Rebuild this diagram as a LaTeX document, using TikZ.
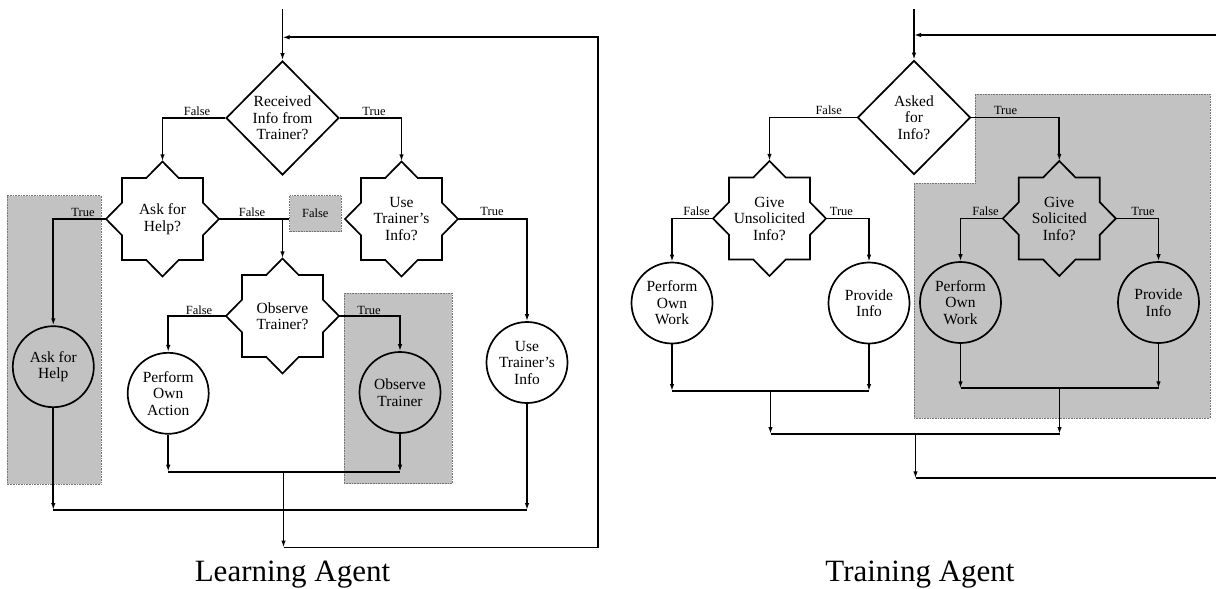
\documentclass[tikz,border=0pt]{standalone}
\usepackage{fontspec}
\setmainfont{Liberation Serif}
\usetikzlibrary{arrows.meta,shapes.geometric}
\newcommand{\starout}[1]{\draw[flow, shift={(#1.center)}] (0,-57.5) -- (16.2,-41) -- (40.5,-41) -- (40.5,-16.3) -- (56.5,0) -- (40.5,16.3) -- (40.5,41) -- (16.2,41) -- (0,57.5) -- (-16.2,41) -- (-40.5,41) -- (-40.5,16.3) -- (-56.5,0) -- (-40.5,-16.3) -- (-40.5,-41) -- (-16.2,-41) -- cycle;}
\begin{document}
\begin{tikzpicture}[x=1pt,y=-1pt,
  flow/.style={line width=1.7pt, line join=miter},
  arr/.style={flow, -{Latex[length=7pt,width=4.5pt]}},
  dia/.style={diamond, draw, line width=1.7pt, minimum width=113pt, minimum height=114pt, inner sep=0pt},
  hid/.style={diamond, draw=none, minimum width=113pt, minimum height=115pt, inner sep=0pt},
  txt/.style={align=center, font=\fontsize{15.5}{16.5}\selectfont, inner sep=0pt},
  circ/.style={circle, draw, line width=1.7pt, minimum size=81pt, inner sep=0pt, align=center, font=\fontsize{15.5}{16.5}\selectfont},
  lbl/.style={font=\fontsize{12.5}{13}\selectfont, inner sep=0pt},
  shade/.style={fill=black!24, draw=black!55, line width=0.6pt, densely dotted},
  title/.style={font=\fontsize{31}{33}\selectfont, anchor=base, inner sep=0pt}]
\fill[white] (0,0) rectangle (1216,589);
\useasboundingbox (0,0) rectangle (1216,589);
% ---------- shaded areas ----------
\fill[shade] (7,195.5) rectangle (101,484);
\fill[shade] (344,293) rectangle (452,483.5);
\node[shade, draw, minimum width=51.5pt, minimum height=36pt, inner sep=0pt, font=\fontsize{12.5}{13}\selectfont] (fbox) at (315.3,213.5) {False};
\filldraw[shade] (975,94) -- (1210,94) -- (1210,418) -- (914,418) -- (914,183.3) -- (975,183.3) -- cycle;
% ---------- Learning agent nodes ----------
\node[dia] (recv) at (282.5,118) {};
\node[txt] (recvt) at (recv) {Received\\Info from\\Trainer?};
\node[hid] (askq) at (162.5,219) {};
\node[txt] (askqt) at (askq) {Ask for\\Help?};
\starout{askq}
\node[hid] (useq) at (401.5,219) {};
\node[txt] (useqt) at (useq) {Use\\Trainer's\\Info?};
\starout{useq}
\node[hid] (obsq) at (282.5,316) {};
\node[txt] (obsqt) at (obsq) {Observe\\Trainer?};
\starout{obsq}
\node[circ] (askc) at (53.3,366.7) {Ask for\\Help};
\node[circ] (perfc) at (168.2,393.3) {Perform\\Own\\Action};
\node[circ] (obsc) at (400,392.5) {Observe\\Trainer};
\node[circ] (usec) at (527,362.5) {Use\\Trainer's\\Info};
% labels
\node[lbl] (l1) at (197,111) {False};
\node[lbl] (l2) at (374,111) {True};
\node[lbl] (l3) at (83,212) {True};
\node[lbl] (l4) at (252,212) {False};
\node[lbl] (l5) at (492,211) {True};
\node[lbl] (l6) at (199,310) {False};
\node[lbl] (l7) at (369,310) {True};
% connectors
\coordinate (top1) at (282.5,9);
\draw[arr] (top1) -- (recv.north);
\draw[arr] (recv.west) -| (askq.north);
\draw[arr] (recv.east) -| (useq.north);
\draw[arr] (askq.west) -| (askc.north);
\draw[flow] (askq.east) -- (askq.east -| fbox.west);
\draw[arr] (askq.east -| obsq.north) -- (obsq.north);
\draw[arr] (useq.east) -| (usec.north);
\draw[arr] (obsq.west) -| (perfc.north);
\draw[arr] (obsq.east) -| (obsc.north);
\coordinate (m1) at (283.5,471.7);
\coordinate (m2) at (283.5,510);
\draw[arr] (perfc.south) -- (perfc.south |- m1);
\draw[arr] (obsc.south) -- (obsc.south |- m1);
\draw[flow] (perfc.south |- m1) -- (obsc.south |- m1);
\draw[arr] (askc.south) -- (askc.south |- m2);
\draw[arr] (usec.south) -- (usec.south |- m2);
\draw[flow] (askc.south |- m2) -- (usec.south |- m2);
\coordinate (b1) at (283.5,547.5);
\coordinate (cr1) at (598,547.5);
\coordinate (cr2) at (598,37.3);
\coordinate (in1) at (282.5,37.3);
\draw[arr] (m1) -- (b1);
\draw[arr] (b1) -- (cr1) -- (cr2) -- (in1);
% ---------- Training agent nodes ----------
\node[dia] (asked) at (914,117.5) {};
\node[txt] (askedt) at (asked) {Asked\\for\\Info?};
\node[hid] (unsol) at (769.5,218.5) {};
\node[txt] (unsolt) at (unsol) {Give\\Unsolicited\\Info?};
\starout{unsol}
\node[hid] (sol) at (1059.3,218.5) {};
\node[txt] (solt) at (sol) {Give\\Solicited\\Info?};
\starout{sol}
\node[circ] (pw1) at (672,303) {Perform\\Own\\Work};
\node[circ] (pi1) at (869,303) {Provide\\Info};
\node[circ] (pw2) at (960.5,302.5) {Perform\\Own\\Work};
\node[circ] (pi2) at (1158.5,302.5) {Provide\\Info};
\node[lbl] (r1) at (828.7,110) {False};
\node[lbl] (r2) at (1005.6,110) {True};
\node[lbl] (r3) at (696.5,211) {False};
\node[lbl] (r4) at (841.4,211) {True};
\node[lbl] (r5) at (985.5,211) {False};
\node[lbl] (r6) at (1143,211) {True};
\coordinate (top2) at (914,9);
\draw[arr] (top2) -- (asked.north);
\draw[arr] (asked.west) -| (unsol.north);
\draw[arr] (asked.east) -| (sol.north);
\draw[arr] (unsol.west) -| (pw1.north);
\draw[arr] (unsol.east) -| (pi1.north);
\draw[arr] (sol.west) -| (pw2.north);
\draw[arr] (sol.east) -| (pi2.north);
\coordinate (m3) at (770.5,391);
\coordinate (m4) at (1059.5,388.3);
\coordinate (m5) at (915.5,434);
\draw[arr] (pw1.south) -- (pw1.south |- m3);
\draw[arr] (pi1.south) -- (pi1.south |- m3);
\draw[flow] (pw1.south |- m3) -- (pi1.south |- m3);
\draw[arr] (pw2.south) -- (pw2.south |- m4);
\draw[arr] (pi2.south) -- (pi2.south |- m4);
\draw[flow] (pw2.south |- m4) -- (pi2.south |- m4);
\draw[arr] (m3) -- (m3 |- m5);
\draw[arr] (m4) -- (m4 |- m5);
\draw[flow] (m3 |- m5) -- (m4 |- m5);
\coordinate (b2) at (915.5,478.3);
\coordinate (e1) at (1216,478.3);
\coordinate (e2) at (1216,35);
\draw[arr] (m5) -- (b2);
\draw[flow] (b2) -- (e1);
\draw[arr] (e2) -- (top2 |- e2);
% titles
\node[title] (t1) at (292.5,581.7) {Learning Agent};
\node[title] (t2) at (920,581.7) {Training Agent};
\end{tikzpicture}
\end{document}
